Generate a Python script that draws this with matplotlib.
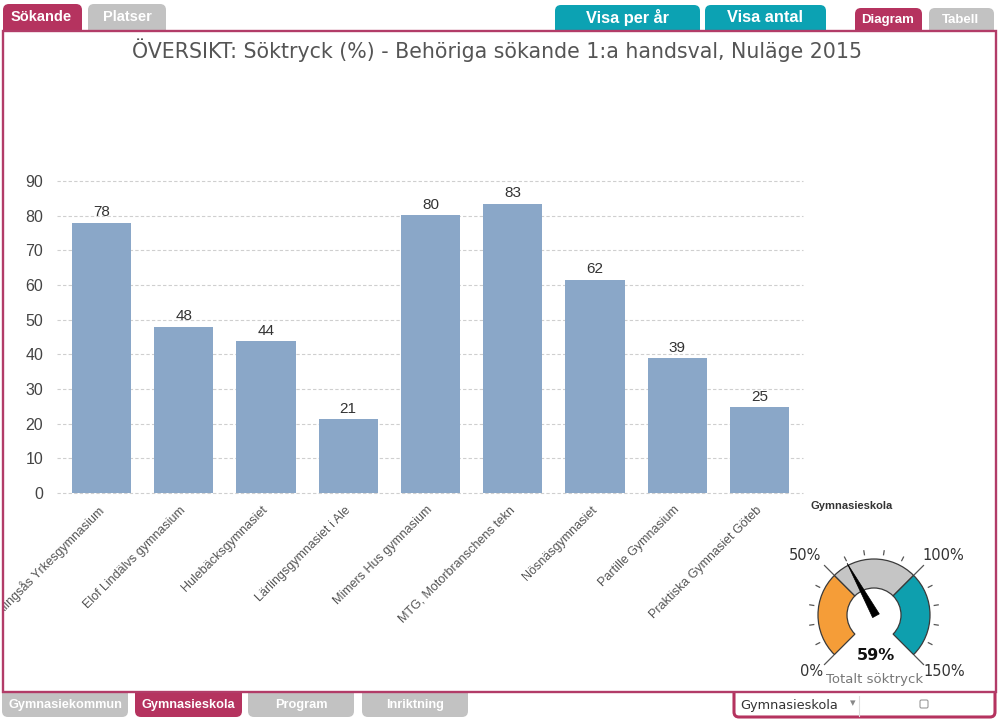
import matplotlib
matplotlib.use("Agg")
import matplotlib.pyplot as plt
from matplotlib.patches import Rectangle, FancyBboxPatch, Wedge, Polygon
from matplotlib.transforms import ScaledTranslation
import numpy as np

# ---------------- data ----------------
schools = [
    "Alingsås Yrkesgymnasium",
    "Elof Lindälvs gymnasium",
    "Hulebäcksgymnasiet",
    "Lärlingsgymnasiet i Ale",
    "Mimers Hus gymnasium",
    "MTG, Motorbranschens tekn",
    "Nösnäsgymnasiet",
    "Partille Gymnasium",
    "Praktiska Gymnasiet Göteb",
]
soktryck = [77.9, 47.9, 43.8, 21.3, 80.2, 83.4, 61.5, 38.9, 24.8]
yticks = [0, 10, 20, 30, 40, 50, 60, 70, 80, 90]
title = "ÖVERSIKT: Söktryck (%) - Behöriga sökande 1:a handsval, Nuläge 2015"
axis_name = "Gymnasieskola"

gauge_value = 59
gauge_max = 150
gauge_bands = [0, 50, 100, 150]
gauge_band_colors = ["#f59d38", "#c5c5c5", "#0e9fae"]
gauge_major = [0, 50, 100, 150]
gauge_minor = [10, 20, 30, 40, 60, 70, 80, 90, 110, 120, 130, 140]
gauge_title = "Totalt söktryck"

top_tabs_left = ["Sökande", "Platser"]
top_tabs_mid = ["Visa per år", "Visa antal"]
top_tabs_right = ["Diagram", "Tabell"]
bottom_tabs = ["Gymnasiekommun", "Gymnasieskola", "Program", "Inriktning"]
selector_text = "Gymnasieskola"

# ---------------- style ----------------
CRIMSON = "#b5335f"
TEAL = "#0ca2b3"
GRAY_TAB = "#c2c2c2"
BAR = "#8aa7c8"
W, H = 999, 720

fig = plt.figure(figsize=(W / 100, H / 100), dpi=100)
fig.patch.set_facecolor("white")

# background overlay in pixel coordinates (y downwards)
bg = fig.add_axes([0, 0, 1, 1], zorder=0)
bg.set_xlim(0, W)
bg.set_ylim(H, 0)
bg.axis("off")


def tab(axh, x0, x1, y0, y1, color, r=6):
    p = FancyBboxPatch((x0 + r, y0 + r), (x1 - x0) - 2 * r, (y1 - y0) - 2 * r,
                       boxstyle=f"round,pad={r}", fc=color, ec="none")
    axh.add_patch(p)


# top tabs
tab_specs = [
    (3, 82, 4, 40, CRIMSON, top_tabs_left[0], 10.5, 41, 17),
    (88, 166, 4, 40, GRAY_TAB, top_tabs_left[1], 10.5, 127, 17),
    (555, 700, 5, 40, TEAL, top_tabs_mid[0], 11.8, 627, 18),
    (705, 826, 5, 40, TEAL, top_tabs_mid[1], 11.8, 765, 18),
    (855, 922, 8, 40, CRIMSON, top_tabs_right[0], 9.5, 888, 20),
    (929, 994, 8, 40, GRAY_TAB, top_tabs_right[1], 9.5, 961, 20),
]
for x0, x1, y0, y1, c, t, fs, tx, ty in tab_specs:
    tab(bg, x0, x1, y0, y1, c)
    bg.text(tx, ty, t, ha="center", va="center", fontsize=fs, color="white",
            fontweight="bold", family="Liberation Sans")

# bottom tabs
bt_specs = [(2, 128), (135, 242), (248, 354), (362, 468)]
for (x0, x1), t in zip(bt_specs, bottom_tabs):
    c = CRIMSON if t == "Gymnasieskola" else GRAY_TAB
    tab(bg, x0, x1, 680, 717, c)
    bg.text((x0 + x1) / 2, 705, t, ha="center", va="center", fontsize=9.2,
            color="white", fontweight="bold", family="Liberation Sans")

# selector box bottom right
bg.add_patch(FancyBboxPatch((739, 686), 251, 26, boxstyle="round,pad=5",
                            fc="white", ec=CRIMSON, lw=2.2))
bg.text(740, 706, selector_text, ha="left", va="center", fontsize=9.3,
        color="#333333", family="DejaVu Sans")
bg.text(853, 703, "▾", ha="center", va="center", fontsize=8, color="#888888",
        family="DejaVu Sans")
bg.plot([859, 859], [696, 716], color="#dddddd", lw=0.8)
bg.add_patch(FancyBboxPatch((920, 700), 8, 8, boxstyle="round,pad=0,rounding_size=1.5",
                            fc="white", ec="#999999", lw=0.8))

# frame interior
bg.add_patch(Rectangle((3, 31), 993, 661, fc="white", ec="none"))

# title
bg.text(497, 50, title, ha="center", va="center", fontsize=14.8, color="#555555",
        family="DejaVu Sans")
bg.text(852, 506, axis_name, ha="center", va="center", fontsize=8, color="#333333",
        fontweight="bold", family="Liberation Sans")

# ---------------- gauge ----------------
cx, cy = 874, 615
r_out, r_in = 56, 27
label_offsets = [(-62, 57), (-69, -59), (69, -59), (70, 57)]


def ang(v):
    return 225 - v / gauge_max * 270


def pt(a, r):
    return cx + r * np.cos(np.radians(a)), cy - r * np.sin(np.radians(a))


for v0, v1, c in zip(gauge_bands[:-1], gauge_bands[1:], gauge_band_colors):
    a0, a1 = ang(v0), ang(v1)
    bg.add_patch(Wedge((cx, cy), r_out, -a0, -a1, width=r_out - r_in, fc=c,
                       ec="#3a3a3a", lw=0.9))

for v in gauge_minor:
    a = ang(v)
    (x0, y0), (x1, y1) = pt(a, 61), pt(a, 65)
    bg.plot([x0, x1], [y0, y1], color="#555555", lw=0.9)
for v, (ox, oy) in zip(gauge_major, label_offsets):
    a = ang(v)
    (x0, y0), (x1, y1) = pt(a, 57), pt(a, 70)
    bg.plot([x0, x1], [y0, y1], color="#555555", lw=0.9)
    bg.text(cx + ox, cy + oy, f"{v}%", ha="center", va="center", fontsize=10.5,
            color="#333333", family="DejaVu Sans")

# needle
a = np.radians(ang(gauge_value))
d = np.array([np.cos(a), -np.sin(a)])
n = np.array([-d[1], d[0]])
c0 = np.array([cx + 1, cy - 1])
tip = c0 + 58 * d
b1 = c0 - 2 * d + 3.8 * n
b2 = c0 - 2 * d - 3.8 * n
bg.add_patch(Polygon([tip, b1, b2], closed=True, fc="black", ec="black", lw=0.5))

bg.text(cx + 2, 656, f"{gauge_value}%", ha="center", va="center", fontsize=11.5,
        fontweight="bold", color="#111111", family="DejaVu Sans")
bg.text(cx + 1, 679, gauge_title, ha="center", va="center", fontsize=9.5,
        color="#777777", family="DejaVu Sans")

# ---------------- bar chart ----------------
y0px, y90px = 493, 181
ppu = (y0px - y90px) / 90.0
ytop = 95
ax = fig.add_axes([57 / W, (H - y0px) / H, (803 - 57) / W,
                   (ytop * ppu) / H], zorder=1)
ax.patch.set_alpha(0)
x = np.arange(len(schools))
bars = ax.bar(x, soktryck, width=0.72, color=BAR, zorder=2)
for xi, v in zip(x, soktryck):
    ax.text(xi, v + 1.0, f"{round(v)}", ha="center", va="bottom", fontsize=11,
            color="#333333", family="Liberation Sans")
ax.set_xlim(-0.54, 8.53)
ax.set_ylim(0, ytop)
ax.set_yticks(yticks)
ax.set_yticklabels([str(t) for t in yticks], family="Liberation Sans")
ax.set_xticks(x)
ax.set_xticklabels([""] * len(schools))
lab_tr = ax.get_xaxis_transform() + ScaledTranslation(-0.04, -0.11, fig.dpi_scale_trans)
for xi, name in zip(x, schools):
    ax.text(xi, 0, name, transform=lab_tr, rotation=45, ha="right", va="top",
            rotation_mode="anchor", fontsize=9, color="#555555",
            family="Liberation Sans", clip_on=False)
for s in ax.spines.values():
    s.set_visible(False)
ax.tick_params(length=0)
ax.tick_params(axis="y", pad=10, labelsize=11.5, labelcolor="#444444")
ax.yaxis.grid(True, color="#cfcfcf", linestyle=(0, (3, 2)), lw=0.8)
ax.set_axisbelow(True)
for gl in ax.get_ygridlines():
    gl.set_clip_on(False)

# ---------------- front overlay: frame border + clipping strip ----------------
fg = fig.add_axes([0, 0, 1, 1], zorder=3)
fg.set_xlim(0, W)
fg.set_ylim(H, 0)
fg.axis("off")
fg.patch.set_alpha(0)
fg.add_patch(Rectangle((-2, 33), 5, 660, fc="white", ec="none"))
fg.add_patch(Rectangle((3, 31), 993, 661, fc="none", ec="#b23c68", lw=1.7))

fig.savefig("out.png", dpi=100, facecolor="white")
